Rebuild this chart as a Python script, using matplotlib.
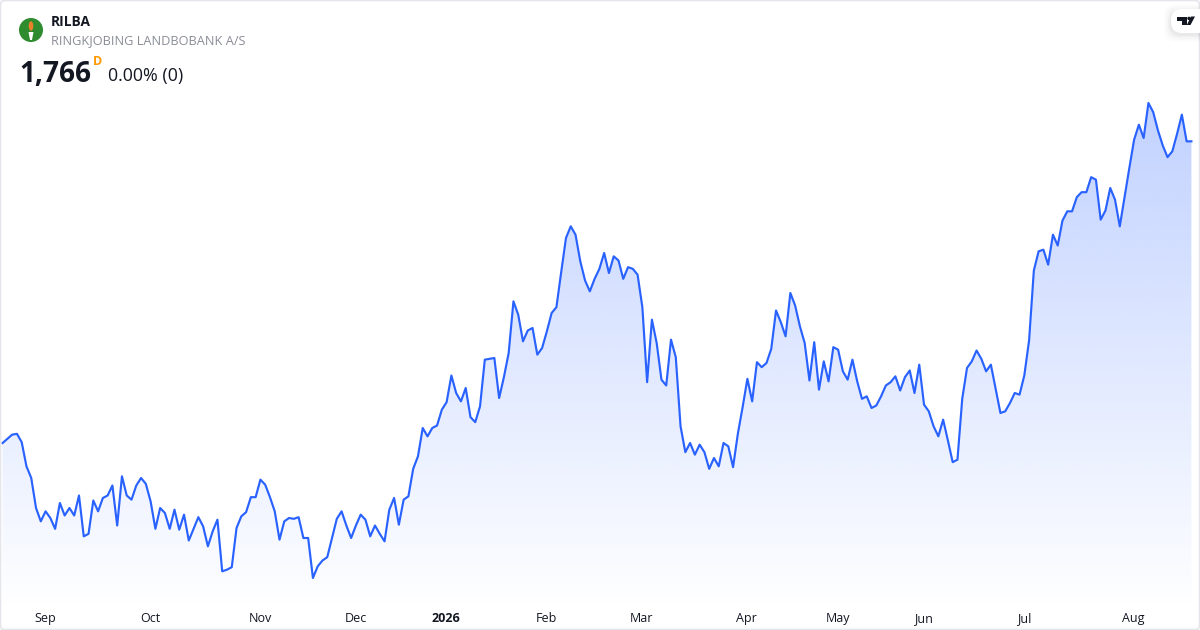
import numpy as np
import matplotlib
matplotlib.use("Agg")
import matplotlib.pyplot as plt
from matplotlib.patches import Circle, FancyBboxPatch, Polygon, Ellipse
from matplotlib.colors import LinearSegmentedColormap

plt.rcParams['font.family'] = ['Open Sans', 'Noto Sans', 'DejaVu Sans']

ticker = "RILBA"
company = "RINGKJOBING LANDBOBANK A/S"
last_price = "1,766"
change_text = "0.00% (0)"
interval = "D"

tick_labels = ["Sep", "Oct", "Nov", "Dec", "2026", "Feb", "Mar", "Apr", "May", "Jun", "Jul", "Aug"]
tick_index = [9, 31, 54, 74, 93, 114, 134, 156, 175, 193, 214, 237]

close = [
    1404, 1409, 1414, 1415, 1405, 1376, 1362, 1326, 1310, 1322, 1314, 1301, 1332, 1317, 1326, 1317, 1341,
    1292, 1295, 1335, 1322, 1338, 1341, 1353, 1305, 1364, 1341, 1336, 1353, 1362, 1355, 1334, 1301, 1326,
    1320, 1301, 1324, 1300, 1318, 1287, 1301, 1315, 1304, 1280, 1298, 1312, 1250, 1252, 1255, 1302, 1316,
    1321, 1339, 1339, 1360, 1354, 1339, 1322, 1288, 1310, 1314, 1313, 1315, 1290, 1290, 1242, 1256, 1263,
    1267, 1290, 1313, 1322, 1305, 1290, 1305, 1318, 1312, 1292, 1305, 1295, 1286, 1324, 1338, 1306, 1336,
    1340, 1373, 1388, 1422, 1412, 1422, 1425, 1444, 1453, 1485, 1464, 1454, 1470, 1435, 1429, 1448, 1504,
    1505, 1506, 1458, 1483, 1512, 1574, 1558, 1526, 1539, 1542, 1510, 1518, 1538, 1560, 1567, 1609, 1650,
    1664, 1654, 1622, 1599, 1586, 1601, 1613, 1632, 1608, 1628, 1623, 1601, 1615, 1613, 1606, 1567, 1477,
    1552, 1524, 1480, 1473, 1528, 1507, 1424, 1393, 1404, 1390, 1402, 1393, 1373, 1386, 1376, 1404, 1400,
    1375, 1415, 1447, 1481, 1454, 1501, 1495, 1500, 1517, 1563, 1549, 1532, 1584, 1569, 1544, 1524, 1479,
    1525, 1468, 1502, 1478, 1519, 1516, 1490, 1480, 1504, 1478, 1457, 1460, 1446, 1449, 1460, 1473, 1477,
    1484, 1467, 1483, 1491, 1464, 1498, 1450, 1442, 1424, 1412, 1432, 1407, 1381, 1384, 1457, 1494, 1502,
    1515, 1505, 1490, 1498, 1469, 1440, 1442, 1452, 1464, 1462, 1485, 1527, 1611, 1634, 1636, 1618, 1654,
    1641, 1671, 1682, 1682, 1699, 1705, 1705, 1723, 1720, 1672, 1683, 1710, 1696, 1664, 1699, 1734, 1768,
    1786, 1770, 1812, 1801, 1779, 1761, 1747, 1754, 1775, 1798, 1766, 1766,
]

W, H = 1200, 630
fig = plt.figure(figsize=(W / 100, H / 100), dpi=100, facecolor="white")

# price pane
ax = fig.add_axes([0, 0, 1, 1])
ax.set_axis_off()
n = len(close)
xs = np.arange(n)
step = (1191.4 - 2.6) / (n - 1)
x_left = -2.6 / step
x_right = x_left + W / step
y_bottom, y_top = 1179.6, 1935.6
ax.set_xlim(x_left, x_right)
ax.set_ylim(y_bottom, y_top)

cmap = LinearSegmentedColormap.from_list(
    "area", [(41/255, 98/255, 1, 0.29), (41/255, 98/255, 1, 0.0)])
grad_top = max(close)
grad_bottom = y_bottom + 20
grad = np.linspace(0, 1, 256).reshape(-1, 1)
im = ax.imshow(grad, cmap=cmap, aspect="auto", origin="upper",
               extent=(x_left, x_right, grad_bottom, grad_top), zorder=1)
ax.set_xlim(x_left, x_right)
ax.set_ylim(y_bottom, y_top)
poly = Polygon(list(zip(xs, close)) + [(xs[-1], y_bottom), (xs[0], y_bottom)],
               closed=True, transform=ax.transData, facecolor="none", edgecolor="none")
ax.add_patch(poly)
im.set_clip_path(poly)
ax.plot(xs, close, color="#2962FF", lw=1.55, solid_joinstyle="round", zorder=3)

for i, lab in zip(tick_index, tick_labels):
    ax.annotate(lab, xy=(i - 0.1, 0), xycoords=("data", "axes fraction"), xytext=(0, 11.5),
                textcoords="offset pixels", ha="center", va="center", fontsize=9,
                color="#131722", fontweight="bold" if lab == "2026" else "normal", zorder=5)

# header overlay in pixel units
ov = fig.add_axes([0, 0, 1, 1], facecolor="none")
ov.set_axis_off()
ov.set_xlim(0, W)
ov.set_ylim(H, 0)

ov.add_patch(FancyBboxPatch((0.5, 0.5), W - 1, H - 1, boxstyle="round,pad=0,rounding_size=4",
                            fc="none", ec="#E4E6EB", lw=1.2, zorder=10))

# logo
ov.add_patch(Circle((31, 30), 12, fc="#2E8B2E", ec="none"))
ov.add_patch(Ellipse((31, 26), 4.6, 9.5, fc="#E8822A", ec="none"))
ov.add_patch(Polygon([(28.5, 32), (33.5, 32), (32, 40), (30, 40)], closed=True, fc="white", ec="none"))

ov.text(51, 21.8, ticker, fontsize=9.9, fontweight="bold", color="#131722", ha="left", va="center")
ov.text(51, 40.5, company, fontsize=9.2, color="#8A8D96", ha="left", va="center")
ov.text(19, 74, last_price, fontsize=20.2, fontweight="bold", color="#131722", ha="left", va="center")
ov.text(93, 61.5, interval, fontsize=9, fontweight="bold", color="#FF9800", ha="left", va="center")
ov.text(108, 75.5, change_text, fontsize=12.9, color="#131722", ha="left", va="center")

# watermark badge
for grow, alpha in [(7, 0.012), (5, 0.018), (3, 0.025), (1.5, 0.03)]:
    ov.add_patch(FancyBboxPatch((1171 - grow, 10 - grow + 1.5), 60 + 2 * grow, 23 + 2 * grow,
                                boxstyle="round,pad=0,rounding_size=11", fc="black", ec="none",
                                alpha=alpha, zorder=11))
ov.add_patch(FancyBboxPatch((1171, 9), 60, 24, boxstyle="round,pad=0,rounding_size=11",
                            fc="white", ec="none", zorder=12))
ov.add_patch(Polygon([(1177, 16.5), (1186.5, 16.5), (1186.5, 25), (1182, 25), (1182, 20.5), (1177, 20.5)],
                     closed=True, fc="#131722", ec="none", zorder=13))
ov.add_patch(Circle((1189, 18.4), 1.7, fc="#131722", ec="none", zorder=13))
ov.add_patch(Polygon([(1191, 16.5), (1195, 16.5), (1190.5, 25), (1186.8, 25)],
                     closed=True, fc="#131722", ec="none", zorder=13))

fig.savefig("out.png", dpi=100)
